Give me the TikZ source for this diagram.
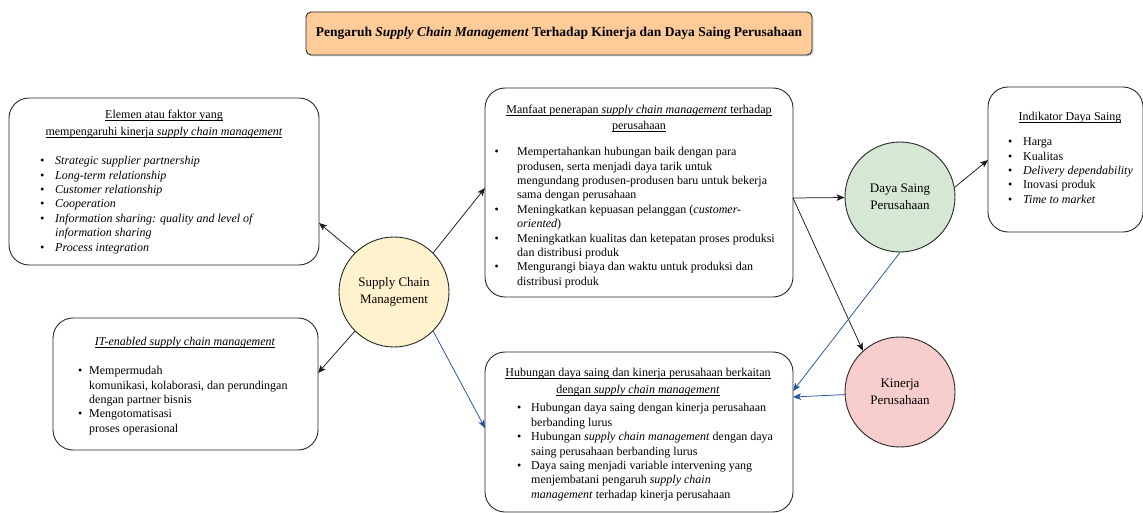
\documentclass[tikz,border=0pt]{standalone}
\usepackage{fontspec}
\setmainfont{Liberation Serif}
\usetikzlibrary{arrows.meta,shadows}
\definecolor{titlefill}{HTML}{FFCC99}
\definecolor{scmfill}{HTML}{FFF2CC}
\definecolor{dsfill}{HTML}{D5E8D4}
\definecolor{knfill}{HTML}{F8CECC}
\definecolor{sblue}{HTML}{23509E}
\newcommand\myul[1]{\setbox0\hbox{#1}\rlap{\rule[-2pt]{\wd0}{0.55pt}}\box0}
\newcommand\bi[2]{\makebox[#1][l]{\textbullet}#2}
\newcommand\hi[2]{\hspace*{#1}#2}
\tikzset{
  box/.style={draw=black!85, line width=0.9pt, rounded corners=20pt, fill=white},
  circ/.style={circle, draw=black!85, line width=0.9pt, minimum size=110pt, inner sep=0pt, align=center, font=\fontsize{13}{16.5}\selectfont},
  txt/.style={inner sep=0pt, align=left, font=\fontsize{12}{14.4}\selectfont, anchor=north west},
  ttl/.style={inner sep=0pt, align=center, font=\fontsize{12}{16.5}\selectfont, anchor=north},
  arr/.style={-{Stealth[length=8pt,width=6.5pt,inset=2pt]}, line width=0.75pt, draw=black!90},
  barr/.style={arr, draw=sblue}
}
\begin{document}
\begin{tikzpicture}[x=1pt,y=-1pt]
\useasboundingbox (0,0) rectangle (1143,513);
% title
\node[draw=black!85, line width=0.9pt, rounded corners=5pt, fill=titlefill, minimum width=506pt, minimum height=43pt, inner sep=0pt,
  font=\bfseries\fontsize{13.5}{16}\selectfont,
  drop shadow={shadow xshift=1.5pt,shadow yshift=-1.5pt,opacity=0.3}] (title) at (559,33.5)
  {Pengaruh \textit{Supply Chain Management} Terhadap Kinerja dan Daya Saing Perusahaan};
% boxes
\node[box, minimum width=310pt, minimum height=167pt] (elemen) at (164,181.5) {};
\node[box, minimum width=308pt, minimum height=209pt] (manfaat) at (639,192.5) {};
\node[box, minimum width=308pt, minimum height=160pt] (hub) at (639,432) {};
\node[box, minimum width=265pt, minimum height=132pt] (itbox) at (185.5,384) {};
\node[box, minimum width=155pt, minimum height=145pt] (ind) at (1065.5,159.5) {};
% circles
\node[circ, fill=scmfill] (scm) at (394,292) {Supply Chain\\Management};
\node[circ, fill=dsfill] (ds) at (900,197) {Daya Saing\\Perusahaan};
\node[circ, fill=knfill] (kn) at (900,392) {Kinerja\\Perusahaan};
% texts: elemen
\node[ttl] (elemenT) at (164,107) {\strut\myul{Elemen atau faktor yang}\\\myul{mempengaruhi kinerja \textit{supply chain management}}};
\node[txt, font=\fontsize{12}{14.4}\selectfont\itshape] (elemenL) at (40,154.4) {\strut\bi{15pt}{Strategic supplier partnership}\\
\bi{15pt}{Long-term relationship}\\
\bi{15pt}{Customer relationship}\\
\bi{15pt}{Cooperation}\\
\bi{15pt}{Information sharing: quality and level of}\\
\hi{15pt}{information sharing}\\
\bi{15pt}{Process integration}};
% manfaat
\node[ttl] (manfaatT) at (639,101.5) {\strut\myul{Manfaat penerapan \textit{supply chain management} terhadap}\\\myul{perusahaan}};
\node[txt] (manfaatL) at (494.5,145.4) {\strut\bi{22.5pt}{Mempertahankan hubungan baik dengan para}\\
\hi{22.5pt}{produsen, serta menjadi daya tarik untuk}\\
\hi{22.5pt}{mengundang produsen-produsen baru untuk bekerja}\\
\hi{22.5pt}{sama dengan perusahaan}\\
\bi{22.5pt}{Meningkatkan kepuasan pelanggan (\textit{customer-}}\\
\hi{22.5pt}{\textit{oriented})}\\
\bi{22.5pt}{Meningkatkan kualitas dan ketepatan proses produksi}\\
\hi{22.5pt}{dan distribusi produk}\\
\bi{22.5pt}{Mengurangi biaya dan waktu untuk produksi dan}\\
\hi{22.5pt}{distribusi produk}};
% hubungan
\node[ttl] (hubT) at (638,365) {\strut\myul{Hubungan daya saing dan kinerja perusahaan berkaitan}\\\myul{dengan \textit{supply chain management}}};
\node[txt] (hubL) at (517,401.7) {\strut\bi{14pt}{Hubungan daya saing dengan kinerja perusahaan}\\
\hi{14pt}{berbanding lurus}\\
\bi{14pt}{Hubungan \textit{supply chain management} dengan daya}\\
\hi{14pt}{saing perusahaan berbanding lurus}\\
\bi{14pt}{Daya saing menjadi variable intervening yang}\\
\hi{14pt}{menjembatani pengaruh \textit{supply chain}}\\
\hi{14pt}{\textit{management} terhadap kinerja perusahaan}};
% IT
\node[ttl] (itT) at (185,334) {\strut\myul{\textit{IT-enabled supply chain management}}};
\node[txt] (itL) at (78,364.4) {\strut\bi{11pt}{Mempermudah}\\
\hi{11pt}{komunikasi, kolaborasi, dan perundingan}\\
\hi{11pt}{dengan partner bisnis}\\
\bi{11pt}{Mengotomatisasi}\\
\hi{11pt}{proses operasional}};
% indikator
\node[ttl] (indT) at (1070,109) {\strut\myul{Indikator Daya Saing}};
\node[txt] (indL) at (1008,135.4) {\strut\bi{15pt}{Harga}\\
\bi{15pt}{Kualitas}\\
\bi{15pt}{\textit{Delivery dependability}}\\
\bi{15pt}{Inovasi produk}\\
\bi{15pt}{\textit{Time to market}}};
% connector end points
\coordinate (pEl) at (319,223);
\coordinate (pMf) at (485,188);
\coordinate (pIt) at (318,373);
\coordinate (pHb) at (485,428);
\coordinate (pMr) at (793,198);
\coordinate (pInd) at (988,160);
\coordinate (pHb2) at (793,391);
\coordinate (pHb3) at (793,397);
% connectors
\draw[arr] (scm.135) -- (pEl);
\draw[arr] (scm.45) -- (pMf);
\draw[arr] (scm.225) -- (pIt);
\draw[barr] (scm.-45) -- (pHb);
\draw[arr] (pMr) -- (ds);
\draw[arr] (pMr) -- (kn.132);
\draw[arr] (ds.10) -- (pInd);
\draw[barr] (ds.south) -- (pHb2);
\draw[barr] (kn) -- (pHb3);
\end{tikzpicture}
\end{document}
